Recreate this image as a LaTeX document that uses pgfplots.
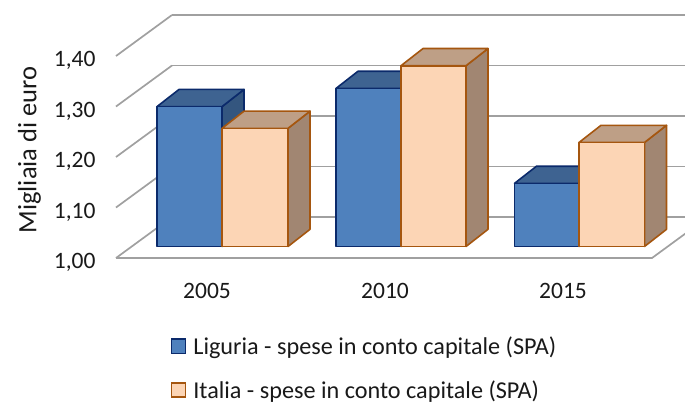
\documentclass[border=0pt]{standalone}
\usepackage{fontspec}
\setmainfont{Carlito}
\usepackage{pgfplots}
\pgfplotsset{compat=1.18}

\definecolor{gridc}{HTML}{A0A0A0}
\definecolor{blueF}{HTML}{4F81BD}
\definecolor{blueT}{HTML}{3E6391}
\definecolor{blueS}{HTML}{34567F}
\definecolor{blueE}{HTML}{0B2A6B}
\definecolor{peachF}{HTML}{FCD5B5}
\definecolor{peachT}{HTML}{BE9F86}
\definecolor{peachS}{HTML}{A18672}
\definecolor{peachE}{HTML}{A5560F}

% one 3D bar: x left, x right, value, colour prefix (x runs in picture pixels)
\newcommand{\threedbar}[4]{%
  \pgfmathsetmacro\xl{#1+22}%
  \pgfmathsetmacro\xr{#2+22}%
  \pgfmathsetmacro\vb{#3+0.034}%
  \addplot[forget plot,no marks,fill=#4S,draw=#4E,line width=1.6pt,line join=round]
    coordinates {(#2,1) (\xr,1.034) (\xr,\vb) (#2,#3)} -- cycle;
  \addplot[forget plot,no marks,fill=#4T,draw=#4E,line width=1.6pt,line join=round]
    coordinates {(#1,#3) (\xl,\vb) (\xr,\vb) (#2,#3)} -- cycle;
  \addplot[forget plot,no marks,fill=#4F,draw=#4E,line width=1.6pt,line join=round]
    coordinates {(#1,1) (#1,#3) (#2,#3) (#2,1)} -- cycle;
}

\begin{document}
\begin{tikzpicture}
\begin{axis}[
    scale only axis,
    width=685pt, height=403pt,
    xmin=0, xmax=685,
    ymin=0.6901, ymax=1.48812,
    axis line style={draw=none},
    major tick length=0pt,
    tick style={draw=none},
    xtick={207,385,563},
    xticklabels={2005,2010,2015},
    ytick={1.00,1.10,1.20,1.30,1.40},
    /pgf/number format/.cd, fixed, fixed zerofill, precision=2, use comma, assume math mode=true,
    /pgfplots/.cd,
    tick label style={font=\fontsize{23.5}{26}\selectfont,text=black!90},
    xticklabel style={anchor=center,yshift=112pt},
    yticklabel style={anchor=east,xshift=99pt,yshift=-16pt},
    ylabel={Migliaia di euro},
    every axis y label/.style={at={(axis description cs:0.043,0.628)},rotate=90,anchor=center,
      font=\fontsize{26.5}{30}\selectfont,text=black!90},
    legend cell align=left,
    legend style={overlay,at={(axis description cs:0.249,0.0)},anchor=south west,draw=none,fill=none,
      font=\fontsize{24.2}{27}\selectfont,text=black!90,row sep=20.5pt,inner sep=0pt,
      yshift=1pt,
      /tikz/every odd column/.append style={column sep=5pt}},
    legend image code/.code={\draw[#1,line width=1.6pt] (1pt,-7pt) rectangle (15pt,7.5pt);},
]
\addlegendimage{fill=blueF,draw=blueE}
\addlegendentry{Liguria - spese in conto capitale (SPA)}
\addlegendimage{fill=peachF,draw=peachE}
\addlegendentry{Italia - spese in conto capitale (SPA)}

% back wall lines
\addplot[forget plot,no marks,gridc,line width=1.7pt] coordinates {(172,1.0584) (685,1.0584)};
\addplot[forget plot,no marks,gridc,line width=1.7pt] coordinates {(172,1.1584) (685,1.1584)};
\addplot[forget plot,no marks,gridc,line width=1.7pt] coordinates {(172,1.2584) (685,1.2584)};
\addplot[forget plot,no marks,gridc,line width=1.7pt] coordinates {(172,1.3584) (685,1.3584)};
\addplot[forget plot,no marks,gridc,line width=1.7pt] coordinates {(172,1.4584) (685,1.4584)};
% left wall lines
\addplot[forget plot,no marks,gridc,line width=1.7pt] coordinates {(116,0.9772) (172,1.0584)};
\addplot[forget plot,no marks,gridc,line width=1.7pt] coordinates {(116,1.0772) (172,1.1584)};
\addplot[forget plot,no marks,gridc,line width=1.7pt] coordinates {(116,1.1772) (172,1.2584)};
\addplot[forget plot,no marks,gridc,line width=1.7pt] coordinates {(116,1.2772) (172,1.3584)};
\addplot[forget plot,no marks,gridc,line width=1.7pt] coordinates {(116,1.3772) (172,1.4584)};
% floor front and right edge
\addplot[forget plot,no marks,gridc,line width=1.7pt] coordinates {(116,0.9772) (652,0.9772) (708,1.0584)};

% bars: left, right, value
\threedbar{157}{222}{1.277}{blue}
\threedbar{222}{288}{1.234}{peach}
\threedbar{336}{401}{1.313}{blue}
\threedbar{401}{466}{1.358}{peach}
\threedbar{514.5}{579}{1.125}{blue}
\threedbar{579}{644.5}{1.206}{peach}
\end{axis}
\end{tikzpicture}
\end{document}
